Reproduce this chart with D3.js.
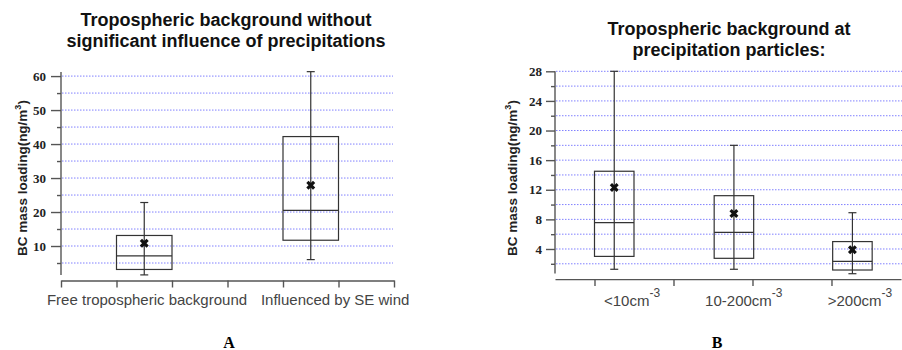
<!DOCTYPE html>
<html lang="en">
<head>
  <meta charset="UTF-8">
  <title>BC mass loading box plots</title>
  <script src="https://d3js.org/d3.v7.min.js"></script>
  <style>
    body { margin: 0; background: #fff; }
    .grid line { stroke: #8080ff; stroke-width: 1; stroke-dasharray: 1.5,1.5; }
    .axis path, .axis line { stroke: #555; stroke-width: 1.4px; }
    .ytick text { font-family: "Liberation Serif", serif; font-weight: bold; font-size: 13px; fill: #222; }
    .title { font-family: "Liberation Sans", Arial, sans-serif; font-weight: bold; font-size: 18px; text-anchor: middle; fill: #111; }
    .ylabel { font-family: "Liberation Sans", Arial, sans-serif; font-weight: bold; font-size: 13.5px; text-anchor: middle; fill: #222; }
    .xlabel { font-family: "Liberation Sans", Arial, sans-serif; fill: #444; text-anchor: middle; }
    .panel { font-family: "Liberation Serif", serif; font-weight: bold; font-size: 16px; text-anchor: middle; }
    .box { fill: none; stroke: #333; stroke-width: 1.2px; }
  </style>
</head>
<body>
  <div id="chart"></div>
  <script>
    // Panel A: tropospheric background without significant precipitation influence
    const catsA = ["Free tropospheric background", "Influenced by SE wind"];
    const lowA  = [1.5, 6.0];
    const q1A   = [3.1, 11.7];
    const medA  = [7.1, 20.5];
    const q3A   = [13.1, 42.2];
    const highA = [22.8, 61.3];
    const meanA = [10.8, 27.9];
    const yTicksA = [10, 20, 30, 40, 50, 60];

    // Panel B: tropospheric background at precipitation particles
    const catsB = ["<10cm", "10-200cm", ">200cm"];
    const lowB  = [1.26, 1.26, 0.66];
    const q1B   = [3.0, 2.74, 1.16];
    const medB  = [7.55, 6.25, 2.34];
    const q3B   = [14.5, 11.2, 5.0];
    const highB = [28, 18, 8.9];
    const meanB = [12.3, 8.78, 3.9];
    const yTicksB = [4, 8, 12, 16, 20, 24, 28];

    const svg = d3.select("#chart").append("svg")
      .attr("width", 902).attr("height", 350);

    function panel(cfg) {
      const x = d3.scaleLinear().domain(cfg.xDomain).range(cfg.xRange);
      const y = d3.scaleLinear().domain(cfg.yDomain).range(cfg.yRange);
      const g = svg.append("g");

      // dotted grid
      g.append("g").attr("class", "grid")
        .selectAll("line").data(cfg.gridVals).enter().append("line")
        .attr("x1", cfg.xRange[0] + 1).attr("x2", cfg.gridEnd)
        .attr("y1", d => y(d)).attr("y2", d => y(d));

      // y axis: major and minor ticks
      const yAx = g.append("g").attr("class", "axis ytick")
        .attr("transform", `translate(${cfg.xRange[0]},0)`)
        .call(d3.axisLeft(y).tickValues(cfg.yTicks).tickSize(cfg.majorLen)
          .tickPadding(cfg.pad).tickSizeOuter(0));
      yAx.select(".domain").remove();
      const yMin = g.append("g").attr("class", "axis")
        .attr("transform", `translate(${cfg.xRange[0]},0)`)
        .call(d3.axisLeft(y).tickValues(cfg.minorTicks).tickSize(4).tickFormat(""));
      yMin.select(".domain").remove();
      g.append("line").attr("class", "axis")
        .attr("x1", cfg.xRange[0]).attr("x2", cfg.xRange[0])
        .attr("y1", cfg.yRange[1]).attr("y2", y(0) - 5)
        .style("stroke", "#555").style("stroke-width", 1.4);

      // x axis
      g.append("g").attr("class", "axis")
        .attr("transform", `translate(0,${y(0) + 0.5})`)
        .call(d3.axisBottom(x).tickValues(cfg.xTicks).tickSize(7)
          .tickSizeOuter(0).tickFormat(""));

      // boxes
      const idx = d3.range(cfg.cats.length);
      const b = g.selectAll(".bx").data(idx).enter().append("g");
      const cx = i => x(cfg.boxLeft[i] + 0.5);
      b.append("line").attr("class", "box")
        .attr("x1", cx).attr("x2", cx)
        .attr("y1", i => y(cfg.low[i])).attr("y2", i => y(cfg.high[i]));
      b.append("line").attr("class", "box")
        .attr("x1", i => cx(i) - 4).attr("x2", i => cx(i) + 4)
        .attr("y1", i => y(cfg.high[i])).attr("y2", i => y(cfg.high[i]));
      b.append("line").attr("class", "box")
        .attr("x1", i => cx(i) - 4).attr("x2", i => cx(i) + 4)
        .attr("y1", i => y(cfg.low[i])).attr("y2", i => y(cfg.low[i]));
      b.append("rect").attr("class", "box")
        .attr("x", i => x(cfg.boxLeft[i]))
        .attr("width", i => x(cfg.boxLeft[i] + 1) - x(cfg.boxLeft[i]))
        .attr("y", i => y(cfg.q3[i]))
        .attr("height", i => y(cfg.q1[i]) - y(cfg.q3[i]));
      b.append("line").attr("class", "box")
        .attr("x1", i => x(cfg.boxLeft[i])).attr("x2", i => x(cfg.boxLeft[i] + 1))
        .attr("y1", i => y(cfg.med[i])).attr("y2", i => y(cfg.med[i]));
      b.append("path")
        .attr("d", d3.symbol(d3.symbolCross, 50)())
        .attr("transform", i => `translate(${cx(i)},${y(cfg.mean[i])}) rotate(45)`)
        .attr("fill", "#111");

      // category labels
      const lab = g.selectAll(".xl").data(idx).enter().append("text")
        .attr("class", "xlabel")
        .attr("x", i => x(cfg.labelPos[i]))
        .attr("y", cfg.labelY)
        .style("font-size", cfg.labelSize + "px")
        .text(i => cfg.cats[i]);
      if (cfg.sup) {
        lab.append("tspan").attr("dy", -9).style("font-size", "12px").text(cfg.sup);
      }

      // y label
      const yl = g.append("text").attr("class", "ylabel")
        .attr("transform", `translate(${cfg.yLabelX},178) rotate(-90)`)
        .text("BC mass loading(ng/m");
      yl.append("tspan").attr("dy", -6).style("font-size", "9px").text("3");
      yl.append("tspan").attr("dy", 6).text(")");

      // title and panel letter
      cfg.title.forEach((t, k) => {
        g.append("text").attr("class", "title")
          .attr("x", cfg.titleX).attr("y", cfg.titleY + k * 21).text(t);
      });
      g.append("text").attr("class", "panel")
        .attr("x", cfg.letterX).attr("y", 348).text(cfg.letter);
    }

    panel({
      cats: catsA, low: lowA, q1: q1A, med: medA, q3: q3A, high: highA, mean: meanA,
      xDomain: [0, 6], xRange: [61, 394], yDomain: [0, 61.2], yRange: [280, 72],
      xTicks: d3.range(0, 7), yTicks: yTicksA, minorTicks: [5, 15, 25, 35, 45, 55],
      gridVals: d3.range(5, 61, 5), gridEnd: 393, majorLen: 10, pad: 5,
      boxLeft: [1, 4], labelPos: [1.55, 4.94], labelY: 305, labelSize: 15,
      yLabelX: 27, title: ["Tropospheric background without", "significant influence of precipitations"],
      titleX: 226, titleY: 26, letter: "A", letterX: 229
    });

    panel({
      cats: catsB, low: lowB, q1: q1B, med: medB, q3: q3B, high: highB, mean: meanB,
      xDomain: [0, 8.76], xRange: [555, 901], yDomain: [0, 28], yRange: [278.6, 71.3],
      xTicks: [1, 3, 5, 7], yTicks: yTicksB, minorTicks: [2, 6, 10, 14, 18, 22, 26],
      gridVals: d3.range(2, 29, 2), gridEnd: 902, majorLen: 9, pad: 4,
      boxLeft: [1, 4.03, 7.03], labelPos: [1.95, 4.78, 7.72], labelY: 306, labelSize: 15,
      sup: "-3", yLabelX: 517, title: ["Tropospheric background at", "precipitation particles:"],
      titleX: 729, titleY: 35, letter: "B", letterX: 717
    });
  </script>
</body>
</html>
